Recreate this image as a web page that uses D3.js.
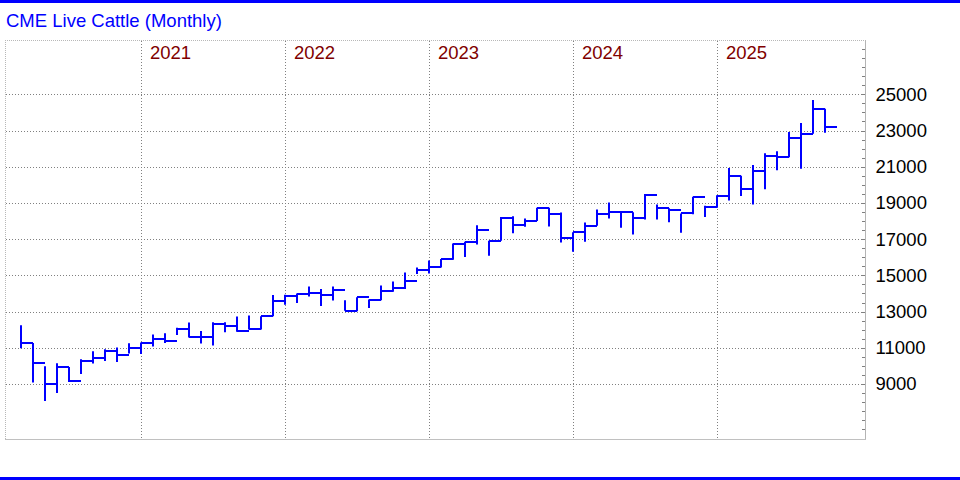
<!DOCTYPE html>
<html><head><meta charset="utf-8">
<script src="https://cdn.jsdelivr.net/npm/d3@7/dist/d3.min.js"></script>
<style>
html,body{margin:0;padding:0;background:#fff;}
svg{display:block;}
text{font-family:"Liberation Sans",Arial,sans-serif;}
</style></head>
<body>
<svg id="chart" width="960" height="480"></svg>
<script>
const title = "CME Live Cattle (Monthly)";
const months = [
 "2020-03","2020-04","2020-05","2020-06","2020-07","2020-08","2020-09","2020-10","2020-11","2020-12",
 "2021-01","2021-02","2021-03","2021-04","2021-05","2021-06","2021-07","2021-08","2021-09","2021-10","2021-11","2021-12",
 "2022-01","2022-02","2022-03","2022-04","2022-05","2022-06","2022-07","2022-08","2022-09","2022-10","2022-11","2022-12",
 "2023-01","2023-02","2023-03","2023-04","2023-05","2023-06","2023-07","2023-08","2023-09","2023-10","2023-11","2023-12",
 "2024-01","2024-02","2024-03","2024-04","2024-05","2024-06","2024-07","2024-08","2024-09","2024-10","2024-11","2024-12",
 "2025-01","2025-02","2025-03","2025-04","2025-05","2025-06","2025-07","2025-08","2025-09","2025-10"
];
const highs = [12250,11270,9980,10150,9940,10370,10810,10920,11010,11250,
 11290,11740,11800,12100,12400,11920,12410,12410,12730,12780,
 12740,13910,13930,14000,14390,14240,14390,13630,13790,13670,
 14440,14660,15160,15440,15820,15910,16760,16850,17770,16910,
 18230,18260,18140,18740,18730,18470,17380,17920,18640,19030,
 18550,18490,19500,18920,18700,18420,19340,18840,19420,20930,
 20500,21090,21750,21860,22920,23410,24680,24200];
const lows = [10980,9080,8060,8500,9110,9550,10130,10270,10220,10680,
 10650,11070,11270,11710,11570,11240,11120,11860,11880,12010,
 12010,12740,13370,13480,13830,13310,13610,13040,13020,13200,
 13630,14090,14250,15070,15100,15440,15860,16020,16710,16080,
 16910,17320,17680,18000,17700,16820,16310,16850,17740,18140,
 17630,17260,18090,18090,17940,17350,18380,18220,18740,19140,
 19390,18920,19750,20800,21530,20890,22820,22880];
const closes = [11270,10160,8990,9940,9170,10270,10440,10830,10610,10980,
 11280,11480,11350,12060,11600,11600,12300,12190,11900,12040,
 12740,13590,13880,13980,14050,13920,14200,13040,13790,13650,
 14140,14310,14700,15300,15470,15900,16740,16830,17500,16890,
 18180,17790,18000,18730,18380,17060,17380,17740,18400,18510,
 18510,18160,19420,18730,18620,18420,19340,18790,19390,20500,
 19780,20780,21610,21530,22600,22820,24200,23210];
const yTicks = [9000,11000,13000,15000,17000,19000,21000,23000,25000];
const yMinorStep = 500;
const yDomain = [6000, 28000];

const svg = d3.select("#chart");
const L = 5, R = 866, T = 40, B = 440;

const x = d3.scaleLinear().domain([-1.31, 70.44]).range([L, R]);
const y = d3.scaleLinear().domain(yDomain).range([438.3, 40]);

// blue borders
svg.append("rect").attr("x",0).attr("y",0).attr("width",960).attr("height",3).attr("fill","#0000ff");
svg.append("rect").attr("x",0).attr("y",477).attr("width",960).attr("height",3).attr("fill","#0000ff");

// title
svg.append("text").attr("x",6).attr("y",27.3).attr("fill","#0000ff")
  .style("font-size","18.5px").text(title);

const g = svg.append("g");

// frame
g.append("line").attr("x1",L).attr("x2",R).attr("y1",T+0.5).attr("y2",T+0.5)
  .attr("stroke","#b8b8b8").attr("stroke-dasharray","1,1");
g.append("line").attr("x1",L+0.5).attr("x2",L+0.5).attr("y1",T).attr("y2",B)
  .attr("stroke","#b8b8b8").attr("stroke-dasharray","1,1");

// horizontal grid
g.selectAll(".hg").data(yTicks).join("line")
  .attr("x1",L+1).attr("x2",R-1)
  .attr("y1",d=>Math.round(y(d))+0.5).attr("y2",d=>Math.round(y(d))+0.5)
  .attr("stroke","#808080").attr("stroke-dasharray","1,2");

// year grid
const janIdx = months.map((m,i)=>[m,i]).filter(d=>d[0].endsWith("-01"));
g.selectAll(".vg").data(janIdx).join("line")
  .attr("x1",d=>Math.round(x(d[1]))+0.5).attr("x2",d=>Math.round(x(d[1]))+0.5)
  .attr("y1",T+1).attr("y2",B-1)
  .attr("stroke","#808080").attr("stroke-dasharray","1,2");
g.selectAll(".yl").data(janIdx).join("text")
  .attr("x",d=>Math.round(x(d[1]))+9).attr("y",59)
  .attr("fill","#800000").style("font-size","18.5px")
  .text(d=>d[0].slice(0,4));

// right axis
const axis = d3.axisRight(y).tickValues(yTicks).tickFormat(d3.format("d")).tickSize(0).tickPadding(10);
const ax = svg.append("g").attr("transform",`translate(${R-0.5},0)`).call(axis);
ax.select(".domain").remove();
ax.selectAll("text").style("font-size","18.5px").attr("fill","#000")
  .attr("font-family","Liberation Sans, Arial, sans-serif");
const minor = d3.range(yDomain[0]+yMinorStep, yDomain[1], yMinorStep);
svg.selectAll(".mt").data(minor).join("line")
  .attr("x1",R-4).attr("x2",R-1)
  .attr("y1",d=>Math.round(y(d))+0.5).attr("y2",d=>Math.round(y(d))+0.5)
  .attr("stroke","#808080");
svg.append("line").attr("x1",R-0.5).attr("x2",R-0.5).attr("y1",T).attr("y2",B)
  .attr("stroke","#b4b4b4");
svg.append("line").attr("x1",L).attr("x2",R).attr("y1",B-0.5).attr("y2",B-0.5)
  .attr("stroke","#c0c0c0");

// HLC bars
const data = months.map((m,i)=>({m,i,h:highs[i],l:lows[i],c:closes[i]}));
const barW = x(1)-x(0);
svg.append("g").selectAll("path").data(data).join("path")
  .attr("d",d=>{
    const xi = Math.round(x(d.i));
    const yc = Math.round(y(d.c));
    return `M${xi},${y(d.h)}V${y(d.l)}M${xi},${yc}H${xi+Math.round(barW)}`;
  })
  .attr("fill","none").attr("stroke","#0000ff").attr("stroke-width",2);
</script>
</body></html>
